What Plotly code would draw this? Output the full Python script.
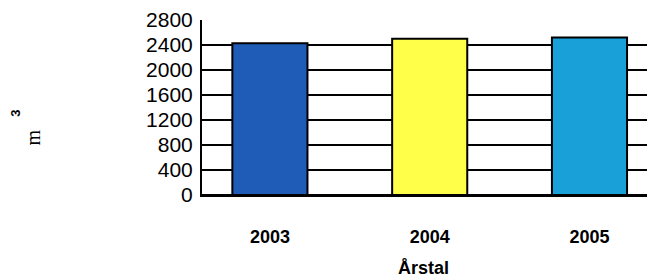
import plotly.graph_objects as go

years = ["2003", "2004", "2005"]
volumes = [2430, 2500, 2520]
bar_colors = ["#1f5cb8", "#ffff4a", "#1aa0d8"]
y_ticks = [0, 400, 800, 1200, 1600, 2000, 2400, 2800]

fig = go.Figure()
fig.add_trace(go.Bar(
    x=years, y=volumes,
    marker=dict(color=bar_colors, line=dict(color="black", width=2)),
    width=0.47,
))

# page body has an 8px default margin, so the figure is 8px smaller on each side
fig.update_layout(
    width=647, height=269,
    margin=dict(l=194, r=0, t=12, b=82, autoexpand=False),
    paper_bgcolor="white", plot_bgcolor="white",
    showlegend=False,
    font=dict(family="Liberation Sans, Arial, sans-serif", color="black"),
    xaxis=dict(
        type="category",
        range=[-0.425, 2.41],
        automargin=False,
        showgrid=False,
        showline=True, linecolor="black", linewidth=2,
        ticks="",
        tickfont=dict(size=18, family="Liberation Sans, Arial, sans-serif", weight="bold"),
        ticklabelstandoff=24,
    ),
    yaxis=dict(
        range=[0, 2800],
        automargin=False,
        tickvals=y_ticks,
        ticktext=[str(v) for v in y_ticks],
        showgrid=True, gridcolor="black", gridwidth=2,
        showline=True, linecolor="black", linewidth=2,
        zeroline=True, zerolinecolor="black", zerolinewidth=2,
        ticks="",
        ticklabelstandoff=3,
        tickfont=dict(size=21),
    ),
    annotations=[
        dict(
            text="m", textangle=-90,
            xref="paper", yref="paper", x=-0.374, y=0.326,
            xanchor="center", yanchor="middle",
            showarrow=False,
            font=dict(family="Liberation Serif, Times New Roman, serif", size=20, color="black"),
        ),
        dict(
            text="3", textangle=-90,
            xref="paper", yref="paper", x=-0.411, y=0.469,
            xanchor="center", yanchor="middle",
            showarrow=False,
            font=dict(family="Liberation Sans, Arial, sans-serif", size=13, color="black", weight="bold"),
        ),
        dict(
            text="<b>Årstal</b>",
            xref="paper", yref="paper", x=0.49, y=-0.415,
            xanchor="center", yanchor="middle",
            showarrow=False,
            font=dict(size=18, color="black"),
        ),
    ],
)

fig.write_html("out.html")
